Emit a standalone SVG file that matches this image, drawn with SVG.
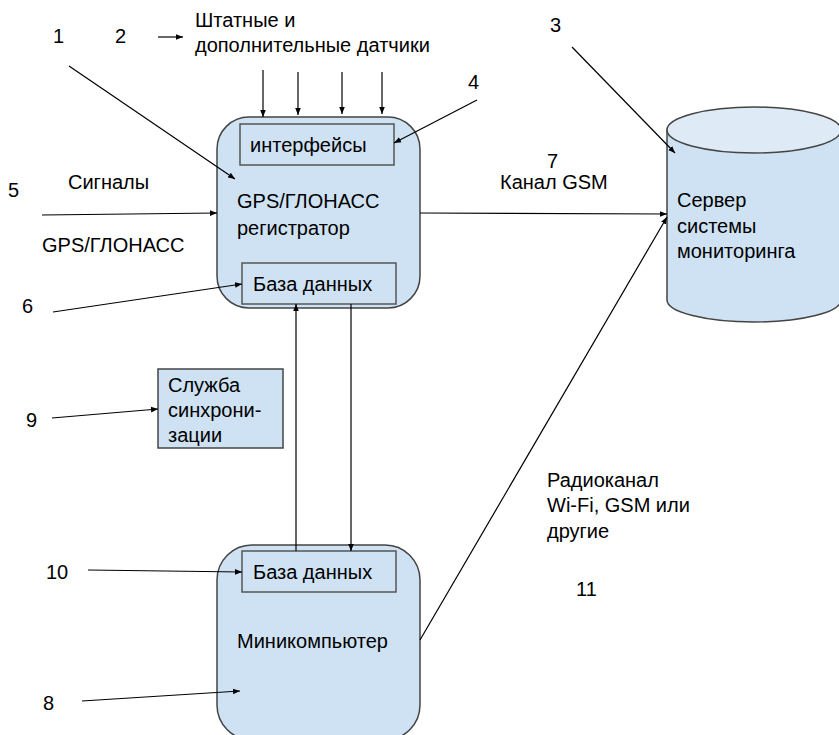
<svg xmlns="http://www.w3.org/2000/svg" width="839" height="735" viewBox="0 0 839 735">
<style>
text{font-family:"Liberation Sans",Arial,sans-serif;font-size:20px;fill:#000}
.box{fill:#cfe2f3;stroke:#444;stroke-width:1.5}
.inner{fill:#cfe2f3;stroke:#555;stroke-width:1.5}
.c{stroke:#000;stroke-width:1.2;fill:none}
.a{marker-end:url(#ah)}
</style>
<defs>
<marker id="ah" viewBox="0 0 10 10" refX="10" refY="5" markerWidth="7" markerHeight="7" markerUnits="userSpaceOnUse" orient="auto">
<path d="M0,1 L10,5 L0,9 z" fill="#000"/>
</marker>
</defs>
<rect width="839" height="735" fill="#fff"/>
<g id="server">
<path class="box" d="M667,130 L667,300 A87,22 0 0 0 841,300 L841,130 Z"/>
<ellipse cx="754" cy="130" rx="87" ry="23" fill="#deebf7" stroke="#444" stroke-width="1.5"/>
<text x="677" y="207">Сервер</text>
<text x="677" y="233">системы</text>
<text x="677" y="258">мониторинга</text>
</g>
<g id="registrator">
<rect class="box" x="217" y="117" width="203" height="191" rx="32"/>
<text x="237" y="208">GPS/ГЛОНАСС</text>
<text x="237" y="235">регистратор</text>
</g>
<g id="interfaces">
<rect class="inner" x="240" y="124" width="154" height="41"/>
<text x="250" y="152">интерфейсы</text>
</g>
<g id="db1">
<rect class="inner" x="242" y="263" width="154" height="41"/>
<text x="253" y="291">База данных</text>
</g>
<g id="sync">
<rect class="box" x="158" y="369" width="125" height="79" rx="0"/>
<text x="168" y="392">Служба</text>
<text x="168" y="417">синхрони-</text>
<text x="168" y="442">зации</text>
</g>
<g id="minicomputer">
<rect class="box" x="217" y="545" width="203" height="195" rx="35"/>
<text x="237" y="648">Миникомпьютер</text>
</g>
<g id="db2">
<rect class="inner" x="242" y="551" width="154" height="41"/>
<text x="253" y="579">База данных</text>
</g>
<g id="labels">
<text x="53" y="43">1</text>
<text x="115" y="43">2</text>
<text x="195" y="27">Штатные и</text>
<text x="195" y="52">дополнительные датчики</text>
<text x="550" y="32">3</text>
<text x="468" y="89">4</text>
<text x="8" y="197">5</text>
<text x="68" y="189">Сигналы</text>
<text x="42" y="252">GPS/ГЛОНАСС</text>
<text x="22" y="313">6</text>
<text x="547" y="168">7</text>
<text x="500" y="189">Канал GSM</text>
<text x="26" y="427">9</text>
<text x="46" y="579">10</text>
<text x="43" y="710">8</text>
<text x="547" y="487">Радиоканал</text>
<text x="547" y="512">Wi-Fi, GSM или</text>
<text x="547" y="538">другие</text>
<text x="576" y="596">11</text>
</g>
<g id="connectors">
<line class="c a" x1="158" y1="37" x2="183" y2="37"/>
<line class="c a" x1="263" y1="70" x2="263" y2="117"/>
<line class="c a" x1="298" y1="72" x2="298" y2="115"/>
<line class="c a" x1="342" y1="72" x2="342" y2="114"/>
<line class="c a" x1="382" y1="72" x2="382" y2="114"/>
<line class="c a" x1="69" y1="66" x2="235" y2="179"/>
<line class="c a" x1="477" y1="100" x2="394" y2="143"/>
<line class="c a" x1="42" y1="215" x2="217" y2="213"/>
<line class="c a" x1="53" y1="312" x2="242" y2="284"/>
<line class="c a" x1="420" y1="213" x2="667" y2="214"/>
<line class="c a" x1="572" y1="47" x2="675" y2="153"/>
<line class="c a" x1="420" y1="640" x2="667" y2="217"/>
<line class="c a" x1="52" y1="418" x2="158" y2="409"/>
<line class="c a" x1="296" y1="551" x2="296" y2="304"/>
<line class="c a" x1="351" y1="304" x2="351" y2="551"/>
<line class="c a" x1="88" y1="570" x2="242" y2="572"/>
<line class="c a" x1="82" y1="701" x2="240" y2="691"/>
</g>
</svg>
